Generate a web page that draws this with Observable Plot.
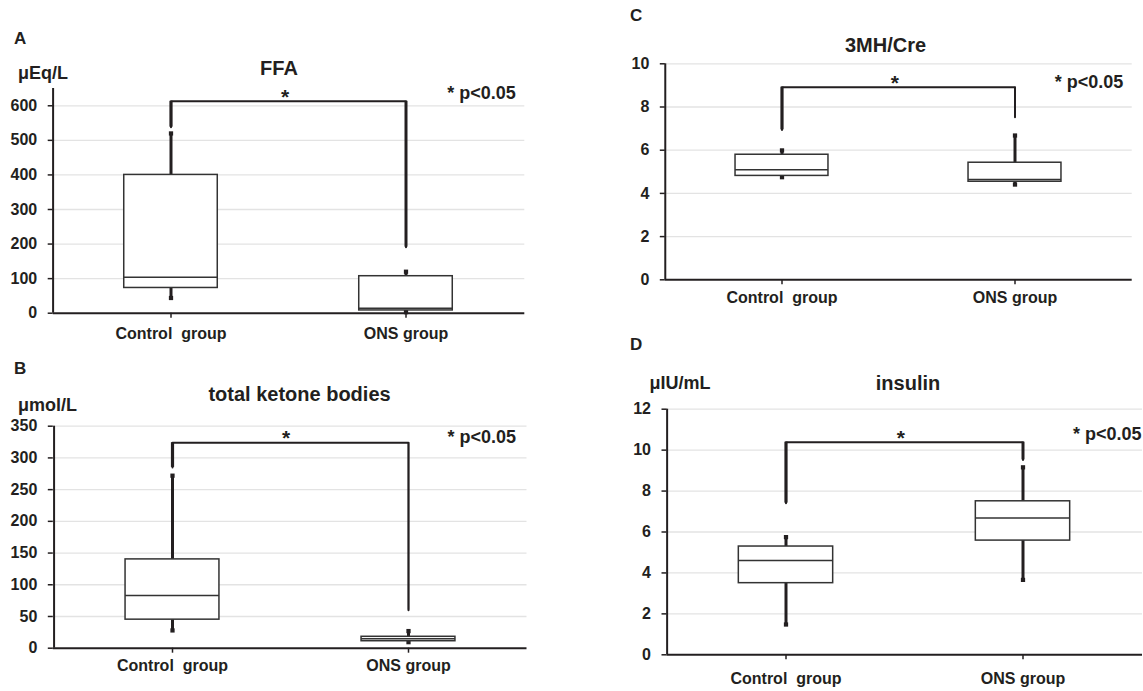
<!DOCTYPE html>
<html>
<head>
<meta charset="utf-8">
<script src="https://cdn.jsdelivr.net/npm/d3@7"></script>
<script src="https://cdn.jsdelivr.net/npm/@observablehq/plot@0.6"></script>
<style>
  body { margin: 0; background: #fff; }
  #wrap { position: relative; width: 1143px; height: 691px; overflow: hidden; background: #fff;
          font-family: "Liberation Sans", Arial, Helvetica, sans-serif; font-weight: bold; color: #231f20; }
  .lbl { position: absolute; white-space: pre; line-height: 1; }
  .c { transform: translate(-50%, -50%); }
  .l { transform: translate(0, -50%); }
  .panel { position: absolute; }
  svg text { white-space: pre; }
</style>
</head>
<body>
<div id="wrap"></div>
<script>
// ---------- data ----------
const groups = ["Control  group", "ONS group"];
const pLabel = "* p<0.05";

// A: FFA (μEq/L)
const ffaLow  = [44, 3];
const ffaQ1   = [73, 8];
const ffaMed  = [104, 14];
const ffaQ3   = [400, 107];
const ffaHigh = [520, 120];
const ffaBracket = [538, 613, 191];   // left end, top, right end
const ffaTicks = [0, 100, 200, 300, 400, 500, 600];
const ffaMax = 650;

// B: total ketone bodies (μmol/L)
const tkbLow  = [28, 9.5];
const tkbQ1   = [45, 11];
const tkbMed  = [83, 15];
const tkbQ3   = [140, 18];
const tkbHigh = [272, 27];
const tkbBracket = [285, 324, 60];
const tkbTicks = [0, 50, 100, 150, 200, 250, 300, 350];
const tkbMax = 350;

// C: 3MH/Cre
const mhLow  = [4.75, 4.41];
const mhQ1   = [4.81, 4.54];
const mhMed  = [5.09, 4.64];
const mhQ3   = [5.79, 5.42];
const mhHigh = [5.99, 6.68];
const mhBracket = [6.94, 8.92, 7.53];
const mhTicks = [0, 2, 4, 6, 8, 10];
const mhMax = 10;

// D: insulin (μIU/mL)
const insLow  = [1.48, 3.66];
const insQ1   = [3.5, 5.58];
const insMed  = [4.61, 6.69];
const insQ3   = [5.29, 7.5];
const insHigh = [5.75, 9.16];
const insBracket = [7.41, 10.39, 9.52];
const insTicks = [0, 2, 4, 6, 8, 10, 12];
const insMax = 12;

// ---------- drawing ----------
const ink = "#231f20";
const FONT = '"Liberation Sans", Arial, Helvetica, sans-serif';
const wrap = document.getElementById("wrap");

function label(text, x, y, size, cls) {
  const d = document.createElement("div");
  d.className = "lbl " + cls;
  d.style.left = x + "px";
  d.style.top = y + "px";
  d.style.fontSize = size + "px";
  d.textContent = text;
  wrap.appendChild(d);
}

function drawPanel(p) {
  const fw = p.width - p.ml - p.mr;
  const band = fw / 2;
  const inset = band * 0.3;
  const gridVals = p.ticks.filter(t => t > 0);
  const [bLow, bTop, bRight] = p.bracket;
  const bx = [groups[0], groups[0], groups[1], groups[1]];
  const by = [bLow, bTop, bTop, bRight];

  const chart = Plot.plot({
    width: p.width, height: p.height,
    marginTop: p.mt, marginBottom: p.mb, marginLeft: p.ml, marginRight: p.mr,
    style: {fontFamily: FONT, fontWeight: "bold", color: ink, background: "transparent", overflow: "visible"},
    x: {domain: groups, padding: 0},
    y: {domain: [0, p.yMax]},
    marks: [
      Plot.ruleY(gridVals, {stroke: "#e3e3e3", strokeWidth: 1.3}),
      Plot.axisY(p.ticks, {tickSize: 5, tickPadding: 11, fontSize: 16, label: null, stroke: ink, strokeWidth: 1.5, fill: ink}),
      Plot.axisX(groups, {tickSize: 5, tickPadding: p.padX, fontSize: 16, label: null, stroke: ink, strokeWidth: 1.5, fill: ink}),
      Plot.ruleY([0], {stroke: ink, strokeWidth: 2}),
      Plot.ruleX([groups[0]], {x: d => d, y1: 0, y2: p.yMax, dx: -band / 2, stroke: ink, strokeWidth: 2}),
      // whiskers
      Plot.ruleX(groups, {x: groups, y1: p.q3, y2: p.high, stroke: ink, strokeWidth: 3}),
      Plot.ruleX(groups, {x: groups, y1: p.low, y2: p.q1, stroke: ink, strokeWidth: 3}),
      Plot.dot(groups, {x: groups, y: p.high, symbol: "square", r: 2.4, fill: ink}),
      Plot.dot(groups, {x: groups, y: p.low, symbol: "square", r: 2.4, fill: ink}),
      // boxes
      Plot.barY(groups, {x: groups, y1: p.q1, y2: p.q3, fill: "white", stroke: "#333", strokeWidth: 1.5, insetLeft: inset, insetRight: inset}),
      Plot.tickY(groups, {x: groups, y: p.med, stroke: "#333", strokeWidth: 1.5, insetLeft: inset, insetRight: inset}),
      // significance bracket
      Plot.line(by, {x: bx, y: by, stroke: ink, strokeWidth: 2}),
      Plot.ruleX([groups[0]], {x: d => d, y1: bLow, y2: bTop, stroke: ink, strokeWidth: 3.2}),
      Plot.ruleX([groups[1]], {x: d => d, y1: bRight, y2: bTop, stroke: ink, strokeWidth: p.rightW}),
      Plot.text([bTop], {y: d => d, text: () => "*", frameAnchor: "middle", dx: -4, dy: -4, fontSize: 21, fill: ink}),
      Plot.text([pLabel], {text: d => d, frameAnchor: "top-right", textAnchor: "end", lineAnchor: "middle", dx: p.pDx, dy: p.pDy, fontSize: 18, fill: ink})
    ]
  });
  const holder = document.createElement("div");
  holder.className = "panel";
  holder.style.left = p.left + "px";
  holder.style.top = p.top + "px";
  holder.appendChild(chart);
  wrap.appendChild(holder);
}

// Panel A
drawPanel({left: 0, top: 60, width: 560, height: 285, mt: 28, mb: 32.3, ml: 52.7, mr: 35.7,
  yMax: ffaMax, ticks: ffaTicks, low: ffaLow, q1: ffaQ1, med: ffaMed, q3: ffaQ3, high: ffaHigh,
  bracket: ffaBracket, rightW: 3, padX: 9.6, pDx: -9, pDy: 5});
label("A", 14, 37.5, 17, "l");
label("FFA", 279, 68, 20, "c");
label("μEq/L", 18, 73, 18, "l");

// Panel B
drawPanel({left: 0, top: 400, width: 560, height: 285, mt: 25.7, mb: 37.3, ml: 52.8, mr: 33.5,
  yMax: tkbMax, ticks: tkbTicks, low: tkbLow, q1: tkbQ1, med: tkbMed, q3: tkbQ3, high: tkbHigh,
  bracket: tkbBracket, rightW: 1.5, padX: 6.6, pDx: -11, pDy: 11});
label("B", 14, 368, 17, "l");
label("total ketone bodies", 299.5, 394, 20, "c");
label("μmol/L", 18, 405, 18, "l");

// Panel C
drawPanel({left: 570, top: 40, width: 573, height: 280, mt: 23.3, mb: 40.7, ml: 94.8, mr: 11.3,
  yMax: mhMax, ticks: mhTicks, low: mhLow, q1: mhQ1, med: mhMed, q3: mhQ3, high: mhHigh,
  bracket: mhBracket, rightW: 1.5, padX: 6.7, pDx: -9, pDy: 18.5});
label("C", 630, 15, 17, "l");
label("3MH/Cre", 885.5, 45, 20, "c");

// Panel D
drawPanel({left: 570, top: 385, width: 573, height: 306, mt: 23.7, mb: 36.7, ml: 96.5, mr: 1,
  yMax: insMax, ticks: insTicks, low: insLow, q1: insQ1, med: insMed, q3: insQ3, high: insHigh,
  bracket: insBracket, rightW: 3, padX: 12.4, pDx: -1, pDy: 25.5});
label("D", 630, 344, 17, "l");
label("insulin", 908, 382.5, 20, "c");
label("μIU/mL", 649.5, 382.5, 18, "l");
</script>
</body>
</html>
